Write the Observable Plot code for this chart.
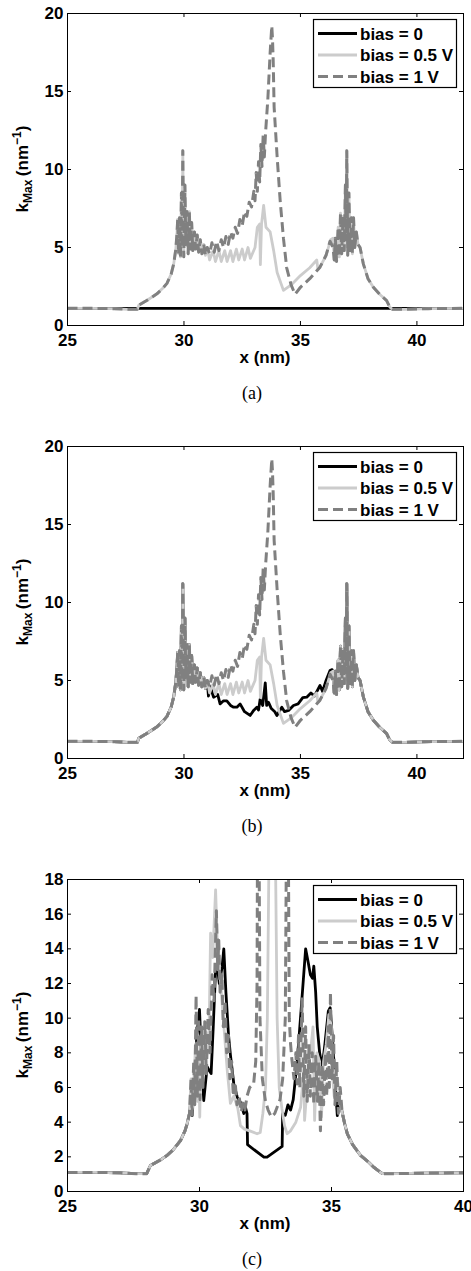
<!DOCTYPE html>
<html><head><meta charset="utf-8">
<script src="https://cdn.jsdelivr.net/npm/d3@7"></script>
<script src="https://cdn.jsdelivr.net/npm/@observablehq/plot@0.6"></script>
<style>
body{margin:0;overflow:hidden;background:#fff;width:471px}
.panel{position:relative;width:471px;height:433px;overflow:visible}
.panel svg{display:block}
.cap{position:absolute;left:0;width:504px;text-align:center;font:18px "Liberation Serif","Times New Roman",serif;line-height:18px;color:#000}
</style></head><body><div id="root"></div>
<script>
// ---------- tick values ----------
const xTicksAB = [25, 30, 35, 40];
const yTicksAB = [0, 5, 10, 15, 20];
const xTicksC = [25, 30, 35, 40];
const yTicksC = [0, 2, 4, 6, 8, 10, 12, 14, 16, 18];
const seriesNames = ["bias = 0", "bias = 0.5 V", "bias = 1 V"];
const captions = ["(a)", "(b)", "(c)"];

// ---------- panels (a) and (b): shared pieces [x (nm), kMax (nm^-1)] ----------
const abLeft = [[25,1.1],[26,1.1],[27,1.08],[27.6,1.04],[28.0,1.04],[28.06,1.3],[28.4,1.6],[28.84,2.03],[29.1,2.4],[29.27,2.7],[29.45,3.3],[29.56,3.95],[29.65,4.9]];
const abPeak1 = [[29.7,5.9],[29.73,6.8],[29.77,4.6],[29.81,6.9],[29.85,4.4],[29.89,8.5],[29.92,5.0],[29.95,11.2],[29.99,4.4],[30.04,9.0],[30.08,5.2],[30.13,7.3],[30.18,4.6],[30.23,7.3],[30.28,4.9],[30.33,6.6],[30.38,4.8],[30.45,6.0],[30.5,4.9],[30.57,5.8],[30.63,4.7],[30.7,5.5],[30.77,4.6],[30.85,5.2],[30.92,4.5],[31.0,5.0]];
const abPeak2 = [[36.45,4.2],[36.5,5.6],[36.55,4.1],[36.62,6.3],[36.67,4.4],[36.72,7.2],[36.77,4.6],[36.83,7.0],[36.88,4.8],[36.93,9.0],[36.96,5.5],[36.99,11.2],[37.03,4.5],[37.08,8.5],[37.13,4.8],[37.19,6.9],[37.23,4.6],[37.28,6.9],[37.33,5.0],[37.4,6.0],[37.47,5.2],[37.56,5.0]];
const abRight = [[37.7,3.95],[37.9,3.0],[38.13,2.45],[38.4,2.0],[38.7,1.6],[38.84,1.17],[38.95,1.04],[39.5,1.04],[40.5,1.08],[42,1.1]];
const abMid05 = [[31.1,4.2],[31.25,4.8],[31.35,4.1],[31.5,4.8],[31.6,4.1],[31.75,4.8],[31.85,4.1],[32.0,4.8],[32.1,4.1],[32.25,4.9],[32.35,4.2],[32.5,4.9],[32.6,4.2],[32.75,5.0],[32.85,4.3],[33.05,5.0],[33.15,6.3],[33.25,6.5],[33.28,3.9],[33.33,6.5],[33.42,7.7],[33.52,6.3],[33.7,6.0],[33.85,4.8],[34.0,3.4],[34.27,2.25],[34.6,2.6],[35.0,3.2],[35.4,3.7],[35.7,4.2],[35.75,3.6],[35.84,3.74],[36.1,4.5],[36.3,5.5],[36.4,5.6]];
const abMid1 = [[31.1,4.6],[31.2,5.3],[31.3,4.7],[31.4,5.4],[31.5,4.8],[31.6,5.5],[31.7,5.0],[31.8,5.7],[31.9,5.2],[32.0,6.0],[32.1,5.6],[32.2,6.3],[32.3,5.9],[32.4,6.8],[32.5,6.4],[32.6,7.3],[32.7,7.0],[32.8,7.9],[32.9,7.6],[33.0,8.6],[33.05,8.0],[33.1,9.8],[33.15,8.6],[33.2,10.5],[33.25,9.2],[33.3,11.6],[33.35,10.2],[33.4,12.2],[33.45,10.8],[33.5,12.3],[33.6,14.5],[33.7,17.5],[33.77,19.2],[33.8,18.4],[33.83,17.0],[33.87,14.0],[34.0,10.8],[34.13,8.0],[34.27,5.6],[34.41,3.7],[34.6,2.6],[34.77,2.0],[35.0,2.45],[35.4,3.0],[35.84,3.74],[36.1,4.5],[36.27,5.4],[36.4,5.0]];
const bMid0 = [[31.05,4.0],[31.13,4.6],[31.27,3.93],[31.45,4.1],[31.55,3.5],[31.7,3.7],[31.84,3.7],[32.0,3.4],[32.13,3.29],[32.27,3.29],[32.41,3.5],[32.6,3.0],[32.84,2.76],[33.0,3.1],[33.13,3.29],[33.2,3.1],[33.27,3.8],[33.38,3.4],[33.49,4.85],[33.55,3.4],[33.63,3.6],[33.75,3.2],[33.9,3.0],[33.99,2.76],[34.2,3.29],[34.32,3.0],[34.49,3.08],[34.7,3.4],[34.9,3.5],[35.1,3.9],[35.27,3.93],[35.45,4.2],[35.6,4.0],[35.84,4.68],[35.95,4.3],[36.1,5.0],[36.27,5.64],[36.36,5.7],[36.42,5.3]];

const a0 = [[25,1.1],[42,1.1]];
const a05 = [...abLeft, ...abPeak1, ...abMid05, ...abPeak2, ...abRight];
const a1 = [...abLeft, ...abPeak1, ...abMid1, ...abPeak2, ...abRight];
const b0 = [...abLeft, ...abPeak1, ...bMid0, ...abPeak2, ...abRight];
const b05 = a05;
const b1 = a1;

// ---------- panel (c) ----------
const cLeft = [[25,1.1],[26,1.1],[27,1.08],[27.6,1.03],[28.0,1.03],[28.05,1.2],[28.14,1.5],[28.5,1.8],[28.77,2.08],[29.0,2.4],[29.28,2.94],[29.45,3.5],[29.53,3.9],[29.62,4.5]];
const cRight = [[35.4,4.6],[35.5,3.9],[35.6,3.33],[35.8,2.7],[36.1,2.08],[36.4,1.7],[36.6,1.4],[36.86,1.1],[36.95,1.03],[37.5,1.03],[38.5,1.06],[40,1.08]];
const cMid0 = [[29.7,5.6],[29.72,4.38],[29.8,6.5],[29.9,9.0],[30.0,10.5],[30.08,7.5],[30.16,5.25],[30.29,7.2],[30.36,7.0],[30.44,6.8],[30.52,9.5],[30.61,12.8],[30.67,13.1],[30.75,12.0],[30.86,13.0],[30.92,14.0],[31.0,11.5],[31.1,9.0],[31.17,7.9],[31.3,6.2],[31.43,5.44],[31.55,5.15],[31.68,4.5],[31.75,4.8],[31.8,4.5],[31.82,2.7],[32.44,1.98],[32.56,1.98],[33.13,2.6],[33.15,4.5],[33.25,4.4],[33.35,5.0],[33.45,4.7],[33.55,5.3],[33.7,7.5],[33.85,10.5],[34.02,14.0],[34.12,13.2],[34.2,12.5],[34.28,12.3],[34.33,13.0],[34.4,11.5],[34.46,9.5],[34.55,8.0],[34.65,7.2],[34.75,8.5],[34.88,10.4],[34.95,10.6],[35.05,8.5],[35.15,6.0],[35.22,4.38],[35.28,5.5],[35.34,5.0]];
const cMid05 = [[29.68,6.5],[29.75,4.8],[29.85,8.5],[29.92,5.2],[29.97,7.5],[30.01,4.29],[30.06,9.0],[30.15,7.0],[30.25,9.2],[30.35,8.0],[30.42,14.9],[30.5,13.5],[30.61,17.4],[30.68,14.0],[30.75,13.0],[30.85,11.0],[30.95,9.0],[31.05,7.0],[31.17,5.08],[31.3,5.5],[31.45,4.8],[31.55,3.8],[31.7,3.6],[31.9,3.5],[32.18,3.33],[32.3,3.4],[32.4,4.5],[32.5,6.0],[32.57,10.0],[32.63,19],[32.75,30],[32.88,19],[32.94,10.0],[33.02,6.0],[33.12,4.8],[33.22,3.8],[33.32,3.33],[33.45,3.5],[33.65,4.0],[33.83,4.86],[33.92,6.5],[33.95,7.2],[33.98,4.1],[34.1,6.5],[34.2,8.0],[34.3,9.5],[34.36,4.1],[34.45,8.0],[34.55,7.5],[34.62,4.3],[34.7,7.5],[34.8,8.5],[34.9,10.2],[35.0,9.5],[35.05,6.5],[35.1,5.5],[35.15,7.0],[35.25,6.2],[35.34,5.0]];
const cMid1 = [[29.68,6.5],[29.72,4.4],[29.78,7.5],[29.82,5.0],[29.87,11.3],[29.92,5.5],[29.97,10.0],[30.02,5.3],[30.08,9.5],[30.13,6.0],[30.2,9.8],[30.26,6.8],[30.33,10.5],[30.4,8.0],[30.48,12.5],[30.55,11.0],[30.64,16.2],[30.69,12.8],[30.73,14.5],[30.78,11.5],[30.85,12.5],[30.9,9.5],[30.97,11.0],[31.03,8.0],[31.1,9.0],[31.15,6.5],[31.22,7.5],[31.28,5.5],[31.35,6.3],[31.42,5.0],[31.5,5.5],[31.58,4.6],[31.65,5.1],[31.72,4.7],[31.8,5.5],[31.9,6.0],[32.05,6.2],[32.13,7.5],[32.18,12.0],[32.2,22],[32.25,22],[32.29,10.0],[32.38,6.5],[32.5,5.2],[32.6,4.7],[32.72,4.3],[32.85,4.5],[32.95,4.9],[33.05,5.3],[33.15,6.5],[33.25,10.0],[33.3,22],[33.36,22],[33.4,10.0],[33.45,8.5],[33.5,7.6],[33.58,6.5],[33.65,8.0],[33.7,6.2],[33.75,9.0],[33.8,6.0],[33.89,11.2],[33.95,5.5],[34.02,9.5],[34.08,5.2],[34.15,8.5],[34.2,5.5],[34.27,8.0],[34.33,5.0],[34.4,7.8],[34.47,5.2],[34.52,7.5],[34.58,3.5],[34.65,7.3],[34.7,5.0],[34.77,8.0],[34.82,5.5],[34.88,9.5],[34.92,6.0],[34.96,11.5],[35.02,6.5],[35.08,9.0],[35.13,5.0],[35.2,7.5],[35.26,4.5],[35.33,6.0]];

const c0 = [...cLeft, ...cMid0, ...cRight];
const c05 = [...cLeft, ...cMid05, ...cRight];
const c1 = [...cLeft, ...cMid1, ...cRight];

// ---------- drawing ----------
const FONT = "'Liberation Sans', Arial, Helvetica, sans-serif";
const FS = 17;
const styles = [
  {stroke: "#000000", strokeWidth: 2.8},
  {stroke: "#cccccc", strokeWidth: 2.8},
  {stroke: "#808080", strokeWidth: 3, strokeDasharray: "10,5"}
];

function makePanel(series, xDomain, yDomain, xTicks, yTicks, caption, panelHeight) {
  const W = 471, H = 370, mt = 13, mb = 45, ml = 67, mr = 8;
  const fh = H - mt - mb, fw = W - ml - mr;
  const svg = Plot.plot({
    width: W, height: H, marginLeft: ml, marginRight: mr, marginTop: mt, marginBottom: mb,
    style: {fontFamily: FONT, fontSize: FS + "px", fontWeight: "bold", color: "#000", background: "#fff", overflow: "visible"},
    x: {domain: xDomain},
    y: {domain: yDomain},
    marks: [
      ...series.map((s, i) => Plot.line(s, {x: d => d[0], y: d => d[1], ...styles[i], clip: true, strokeLinejoin: "round", strokeLinecap: "butt"})),
      Plot.frame({stroke: "#000", strokeWidth: 1}),
      Plot.ruleX(xTicks, {stroke: "#000", insetTop: fh - 4}),
      Plot.ruleX(xTicks, {stroke: "#000", insetBottom: fh - 4}),
      Plot.ruleY(yTicks, {stroke: "#000", insetRight: fw - 4}),
      Plot.ruleY(yTicks, {stroke: "#000", insetLeft: fw - 4}),
      Plot.axisX(xTicks, {tickSize: 0, tickPadding: 8, label: null, fontSize: FS, fontWeight: "bold", fill: "#000"}),
      Plot.axisY(yTicks, {tickSize: 0, tickPadding: 4, label: null, fontSize: FS, fontWeight: "bold", fill: "#000"})
    ]
  });
  const s = d3.select(svg);
  // y label  k_Max (nm^-1)
  const yl = s.append("text")
    .attr("transform", `translate(28,${mt + fh / 2}) rotate(-90)`)
    .attr("text-anchor", "middle").attr("font-family", FONT).attr("font-weight", "bold")
    .attr("font-size", FS).attr("fill", "#000");
  yl.append("tspan").text("k");
  yl.append("tspan").attr("font-size", 12).attr("dy", 4).text("Max");
  yl.append("tspan").attr("dy", -4).text("\u2009(nm");
  yl.append("tspan").attr("font-size", 12).attr("dy", -7).text("\u22121");
  yl.append("tspan").attr("dy", 7).text(")");
  // x label
  s.append("text").attr("x", ml + fw / 2).attr("y", mt + fh + 38)
    .attr("text-anchor", "middle").attr("font-family", FONT).attr("font-weight", "bold")
    .attr("font-size", FS).attr("fill", "#000").text("x (nm)");
  // legend
  const lg = s.append("g").attr("text-anchor", "start");
  lg.append("rect").attr("x", 313.5).attr("y", 19.5).attr("width", 143).attr("height", 68)
    .attr("fill", "#ffffff").attr("stroke", "#000000").attr("stroke-width", 1.2);
  const ly = [33.5, 55, 76.5];
  seriesNames.forEach((n, i) => {
    lg.append("line").attr("x1", 318).attr("x2", 357).attr("y1", ly[i]).attr("y2", ly[i])
      .attr("stroke", styles[i].stroke).attr("stroke-width", 2.8)
      .attr("stroke-dasharray", styles[i].strokeDasharray || null);
    lg.append("text").attr("x", 360).attr("y", ly[i] + 6).attr("font-family", FONT)
      .attr("text-anchor", "start")
      .attr("font-weight", "bold").attr("font-size", FS).attr("fill", "#000").text(n);
  });
  const div = document.createElement("div");
  div.className = "panel";
  div.style.height = panelHeight + "px";
  div.appendChild(svg);
  const cap = document.createElement("div");
  cap.className = "cap";
  cap.style.top = "384px";
  cap.textContent = caption;
  div.appendChild(cap);
  document.getElementById("root").appendChild(div);
}

makePanel([a0, a05, a1], [25, 42], [0, 20], xTicksAB, yTicksAB, captions[0], 433);
makePanel([b0, b05, b1], [25, 42], [0, 20], xTicksAB, yTicksAB, captions[1], 433);
makePanel([c0, c05, c1], [25, 40], [0, 18], xTicksC, yTicksC, captions[2], 405);
</script></body></html>
